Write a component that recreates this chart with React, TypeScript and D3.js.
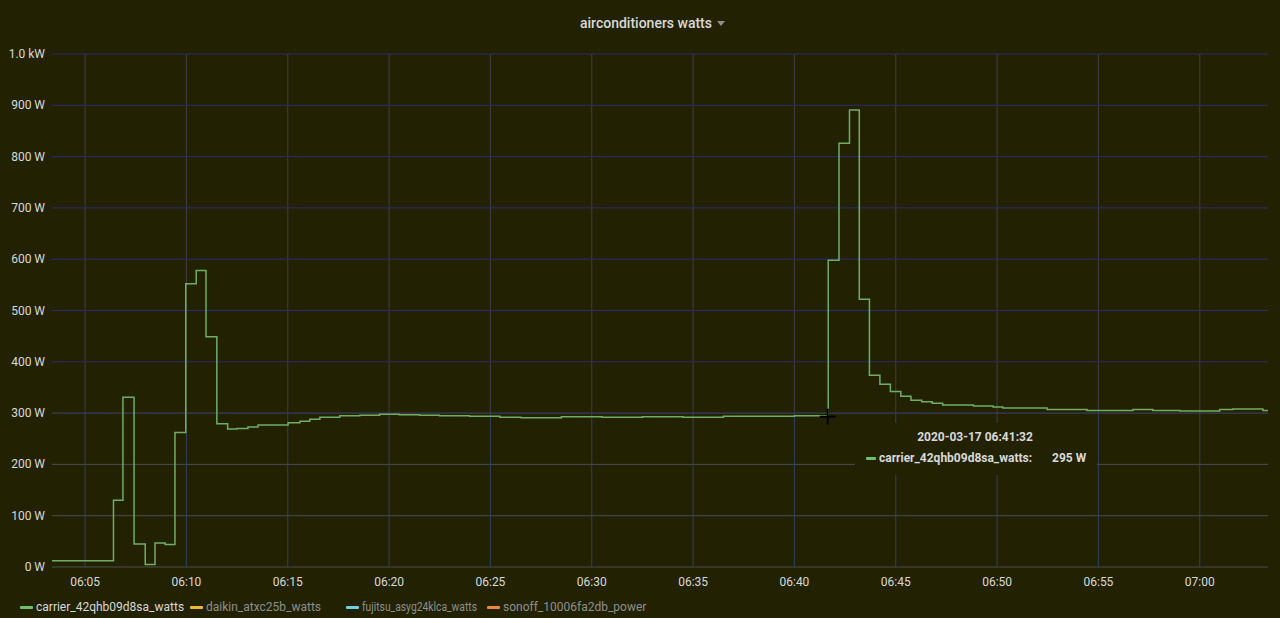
import React from "react";
import * as d3 from "d3";

const DAY = "2020-03-17";
const RANGE_START = "06:03:22";
const RANGE_END = "07:03:22";

const SERIES_NAME = "carrier_42qhb09d8sa_watts";
const LEGEND_NAMES = [
  "carrier_42qhb09d8sa_watts",
  "daikin_atxc25b_watts",
  "fujitsu_asyg24klca_watts",
  "sonoff_10006fa2db_power",
];
const LEGEND_COLORS = ["#73bf69", "#eab839", "#6ed0e0", "#ef843c"];
const LEGEND_ACTIVE = [true, false, false, false];

const TIMES = [
  "06:03:00", "06:06:24", "06:06:52", "06:07:25", "06:07:58", "06:08:27", "06:08:57", "06:09:26",
  "06:09:58", "06:10:29", "06:10:58", "06:11:30", "06:12:02", "06:12:29", "06:13:02", "06:13:32",
  "06:15:01", "06:15:36", "06:16:05", "06:16:35", "06:17:34", "06:18:33", "06:19:32", "06:20:30",
  "06:21:30", "06:22:29", "06:23:58", "06:25:28", "06:26:30", "06:28:30", "06:30:30", "06:32:30",
  "06:34:30", "06:36:30", "06:38:30", "06:40:00", "06:41:40", "06:42:12", "06:42:43", "06:43:12",
  "06:43:42", "06:44:13", "06:44:44", "06:45:15", "06:45:45", "06:46:17", "06:46:48", "06:47:19",
  "06:48:50", "06:49:48", "06:50:17", "06:52:28", "06:54:26", "06:56:42", "06:57:41", "06:59:01",
  "07:00:59", "07:01:38", "07:03:07", "07:03:40",
];
const WATTS = [
  12, 130, 331, 45, 5, 47, 44, 262,
  552, 578, 449, 279, 269, 270, 273, 277,
  281, 284, 288, 292, 295, 296, 298, 297,
  296, 295, 294, 292, 291, 293, 292, 293,
  292, 294, 294, 295, 598, 826, 891, 522,
  374, 356, 342, 333, 325, 322, 319, 316,
  314, 312, 310, 307, 305, 307, 305, 304,
  307, 308, 305, 305,
];

const Y_TICKS = [0, 100, 200, 300, 400, 500, 600, 700, 800, 900, 1000];
const TOOLTIP_TIME = "2020-03-17 06:41:32";
const TOOLTIP_VALUE = 295;

const W = 1280;
const H = 618;
const BG = "#222203";

function t(s: string) {
  return new Date(`${DAY}T${s}`);
}

function fmtWatts(v: number) {
  return v >= 1000 ? `${(v / 1000).toFixed(1)} kW` : `${v} W`;
}

export default function App() {
  const x = d3.scaleTime().domain([t(RANGE_START), t(RANGE_END)]).range([52, 1268]);
  const y = d3.scaleLinear().domain([0, 1000]).range([567, 54]);
  const data = TIMES.map((s, i) => ({ d: t(s), v: WATTS[i] }));
  const line = d3
    .line<{ d: Date; v: number }>()
    .x((p) => x(p.d))
    .y((p) => y(p.v))
    .curve(d3.curveStepAfter);
  const xTicks = x.ticks(d3.timeMinute.every(5)!).filter((d) => x(d) > 60 && x(d) < 1260);
  const fmt = d3.timeFormat("%H:%M");
  const split = y(300);
  const [x0, x1] = x.range();
  const hx = x(t("06:41:40")) - 0.5;
  const hy = y(TOOLTIP_VALUE) + 1;
  const font = "Roboto, 'Open Sans', sans-serif";
  const legendIconX = [20, 190, 346, 487];
  const legendFit: (number | undefined)[] = [undefined, undefined, 115, undefined];

  return (
    <svg
      width={W}
      height={H}
      style={{ position: "absolute", left: 0, top: 0, display: "block", background: BG }}
      fontFamily={font}
    >
      <defs>
        <clipPath id="plot">
          <rect x={x0} y={40} width={x1 - x0} height={540} />
        </clipPath>
      </defs>
      <rect x={0} y={0} width={W} height={H} fill={BG} />
      <text x={646} y={28} textAnchor="middle" fontSize={14} fontWeight={500} fill="#d8d9da">
        airconditioners watts
      </text>
      <path d="M 717 21 L 725 21 L 721 26 Z" fill="#8e8e8e" />

      {/* vertical grid */}
      {xTicks.map((d, i) => (
        <g key={"vx" + i}>
          <line x1={x(d)} x2={x(d)} y1={y(1000)} y2={split} stroke="#3e3e46" strokeWidth={1} />
          <line x1={x(d)} x2={x(d)} y1={split} y2={y(0)} stroke="#2f4062" strokeWidth={1} />
        </g>
      ))}
      {/* horizontal grid */}
      {Y_TICKS.map((v) => (
        <line
          key={"hy" + v}
          x1={x0}
          x2={x1}
          y1={y(v)}
          y2={y(v)}
          stroke={v >= 400 ? "#2b2b70" : v === 300 ? "#3e4468" : "#4a4a55"}
          strokeWidth={1}
        />
      ))}

      {Y_TICKS.map((v) => (
        <text key={"yl" + v} x={45} y={y(v) + 4} textAnchor="end" fontSize={12} fill="#d8d9da">
          {fmtWatts(v)}
        </text>
      ))}
      {xTicks.map((d, i) => (
        <text key={"xl" + i} x={x(d)} y={586} textAnchor="middle" fontSize={12} fill="#d8d9da">
          {fmt(d)}
        </text>
      ))}

      <path d={line(data) ?? ""} fill="none" stroke="#70ad64" strokeWidth={1.5} clipPath="url(#plot)" />

      {/* crosshair */}
      <line x1={hx - 8} x2={hx + 8} y1={hy} y2={hy} stroke="#000" strokeWidth={2} />
      <line x1={hx} x2={hx} y1={hy - 8} y2={hy + 8} stroke="#000" strokeWidth={2} />

      {/* tooltip */}
      <rect x={855} y={423} width={242} height={52} fill={BG} />
      <text x={975} y={441} textAnchor="middle" fontSize={12} fontWeight={700} fill="#d8d9da">
        {TOOLTIP_TIME}
      </text>
      <rect x={866} y={457} width={10} height={3} rx={1} fill="#73bf69" />
      <text x={879} y={462} fontSize={12} fontWeight={700} fill="#d8d9da">
        {SERIES_NAME}:
      </text>
      <text x={1052} y={462} fontSize={12} fontWeight={700} fill="#d8d9da">
        {fmtWatts(TOOLTIP_VALUE)}
      </text>

      {/* legend */}
      {LEGEND_NAMES.map((name, i) => {
        const sx = legendIconX[i];
        const fit = legendFit[i];
        return (
          <g key={name}>
            <rect x={sx} y={606} width={13} height={3} rx={1} fill={LEGEND_COLORS[i]} />
            <text
              x={sx + 16}
              y={611}
              fontSize={12}
              fill={LEGEND_ACTIVE[i] ? "#d8d9da" : "#8e8e8e"}
              {...(fit ? { textLength: fit, lengthAdjust: "spacingAndGlyphs" } : {})}
            >
              {name}
            </text>
          </g>
        );
      })}
    </svg>
  );
}
